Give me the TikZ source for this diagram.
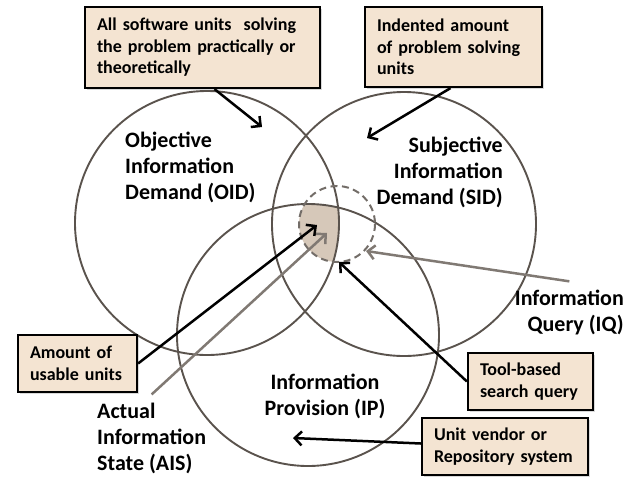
\documentclass[tikz,border=0pt]{standalone}
\usepackage{fontspec}
\setmainfont{Carlito}
\usepackage{xcolor}
\usepackage{tikz}
\usetikzlibrary{positioning, arrows.meta, calc, shadows}
\definecolor{boxfill}{HTML}{F4E4D2}
\definecolor{setgray}{HTML}{5A534D}
\definecolor{overlapfill}{HTML}{D6C8B9}
\definecolor{querygray}{HTML}{807973}

\tikzset{
  setcircle/.style={draw=setgray, line width=1.9pt},
  infobox/.style={draw=black, line width=2.2pt, fill=boxfill, align=left,
    inner xsep=12pt, inner ysep=0pt,
    font=\bfseries\fontsize{18}{21.5}\selectfont,
    drop shadow={shadow xshift=2pt, shadow yshift=-2pt, opacity=0.3}},
  setlabel/.style={inner sep=0pt, font=\bfseries\fontsize{22}{26}\selectfont},
  pointer/.style={draw=black, line width=2.5pt,
    -{Straight Barb[length=7pt, width=14pt]}},
  graypointer/.style={pointer, draw=querygray},
}

\begin{document}
\begin{tikzpicture}[x=1pt, y=-1pt]
    \useasboundingbox (0,0) rectangle (642,477);

    % overlap of all sets inside the query
    \begin{scope}
      \clip (337,224) circle[radius=38];
      \clip (207,223) circle[radius=132];
      \fill[overlapfill] (308,335) circle[radius=131];
    \end{scope}

    % the three sets and the query
    \draw[setcircle] (207,223) circle[radius=132];
    \draw[setcircle] (404,224) circle[radius=132];
    \draw[setcircle] (308,335) circle[radius=131];
    \draw[draw=setgray!85, line width=2pt, dash pattern=on 7pt off 4.5pt]
      (337,224) circle[radius=38];

    % set names
    \node[setlabel, anchor=west, align=left] (oid) at (125,167)
      {Objective\\Information\\Demand (OID)};
    \node[setlabel, anchor=east, align=right] (sid) at (503,172)
      {Subjective\\Information\\Demand (SID)};
    \node[setlabel, anchor=east, align=right] (iq) at (624,312)
      {Information\\Query (IQ)};
    \node[setlabel, align=center] (ip) at (325,396)
      {Information\\Provision (IP)};
    \node[setlabel, anchor=west, align=left] (ais) at (97,438)
      {Actual\\Information\\State (AIS)};

    % explanation boxes
    \node[infobox, text width=211pt, minimum height=81pt] (objbox) at (202.5,47.5)
      {All software units~ solving\\the problem practically or\\theoretically};
    \node[infobox, text width=153pt, minimum height=80pt] (subjbox) at (453.5,47)
      {Indented amount\\of problem solving\\units};
    \node[infobox, text width=95pt, minimum height=57pt] (usablebox) at (77.5,363.5)
      {Amount of\\usable units};
    \node[infobox, text width=101pt, minimum height=57pt] (toolbox) at (530.5,381.5)
      {Tool-based\\search query};
    \node[infobox, text width=142pt, minimum height=57pt] (vendorbox) at (505,446.5)
      {Unit vendor or\\Repository system};

    % arrow targets
    \coordinate (oidtip) at (262,127);
    \coordinate (sidtip) at (367,138);
    \coordinate (usabletip) at (317,225);
    \coordinate (aistip) at (327,233);
    \coordinate (iqtip) at (366,251);
    \coordinate (tooltip) at (339,262);
    \coordinate (iptip) at (293,438);

    \draw[pointer] ([xshift=12pt]objbox.south) -- (oidtip);
    \draw[pointer] ([xshift=-3pt]subjbox.south) -- (sidtip);
    \draw[pointer] (usablebox.east) -- (usabletip);
    \draw[graypointer] ([yshift=8pt]ais.north) -- (aistip);
    \draw[graypointer] ([yshift=8pt]iq.north) -- (iqtip);
    \draw[pointer] (toolbox.west) -- (tooltip);
    \draw[pointer] ([yshift=3pt]vendorbox.west) -- (iptip);
\end{tikzpicture}
\end{document}
